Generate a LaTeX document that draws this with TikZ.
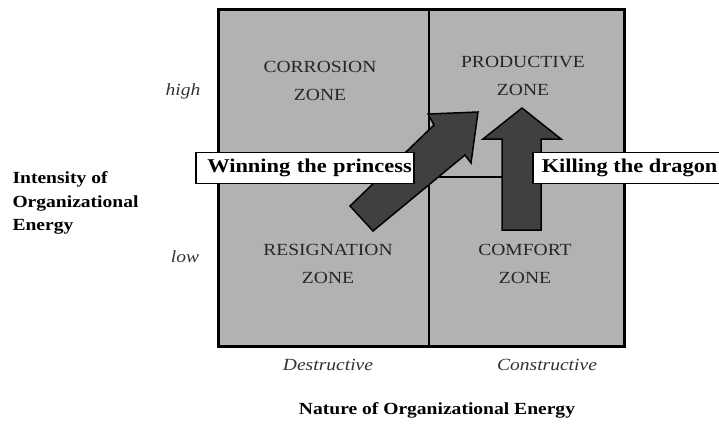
\documentclass[tikz,border=0pt]{standalone}
\usepackage{fontspec}
\setmainfont{Liberation Serif}[FakeStretch=1.15]
\begin{document}
\begin{tikzpicture}[x=1pt,y=-1pt,
  zone/.style={align=center,text=black!85,font=\fontsize{17}{28}\selectfont},
  tag/.style={draw,line width=1.5pt,fill=white,anchor=west,minimum height=31pt,font=\fontsize{19.5}{24}\selectfont\bfseries},
  axislabel/.style={font=\fontsize{17}{23.5}\selectfont\bfseries},
  level/.style={text=black!80,font=\fontsize{17}{20}\selectfont\itshape},
  bigarrow/.style={draw=black,line width=1.5pt,fill=black!75,line join=miter}]
    \useasboundingbox (0,0) rectangle (719,423);
    \coordinate (nw) at (218,9);
    \coordinate (se) at (624,346);
    \coordinate (midtop) at (429,9);
    \coordinate (midbot) at (429,346);
    \coordinate (midleft) at (218,177);
    \coordinate (midright) at (624,177);

    \filldraw[fill=black!30,line width=3pt] (nw) rectangle (se);
    \draw[line width=2pt] (midtop) -- (midbot);
    \draw[line width=2pt] (midleft) -- (midright);

    \node[zone] (corrosion) at (320,81) {CORROSION\\ZONE};
    \node[zone] (productive) at (523,76) {PRODUCTIVE\\ZONE};
    \node[zone] (resignation) at (328,264) {RESIGNATION\\ZONE};
    \node[zone] (comfort) at (525,264) {COMFORT\\ZONE};

    \draw[bigarrow] (502,230) -- (502,139) -- (483,139) -- (522,108) -- (561,139) -- (541,139) -- (541,230) -- cycle;
    \draw[bigarrow] (350,206) -- (434,125) -- (428,114) -- (478,112) -- (471,163) -- (465,155) -- (373,231) -- cycle;
    \node[tag,inner xsep=2pt,text width=214pt,align=right] (princess) at (195,168) {Winning the princess};
    \node[tag,inner xsep=9pt] (dragon) at (532,168) {Killing the dragon};

    \node[level] (high) at (183,91) {high};
    \node[level] (low) at (185,257) {low};
    \node[axislabel,align=left,anchor=west] (intensity) at (9,203) {Intensity of\\Organizational\\Energy};
    \node[level] (destructive) at (328,365) {Destructive};
    \node[level] (constructive) at (547,365) {Constructive};
    \node[axislabel] (nature) at (437,410) {Nature of Organizational Energy};
\end{tikzpicture}
\end{document}
